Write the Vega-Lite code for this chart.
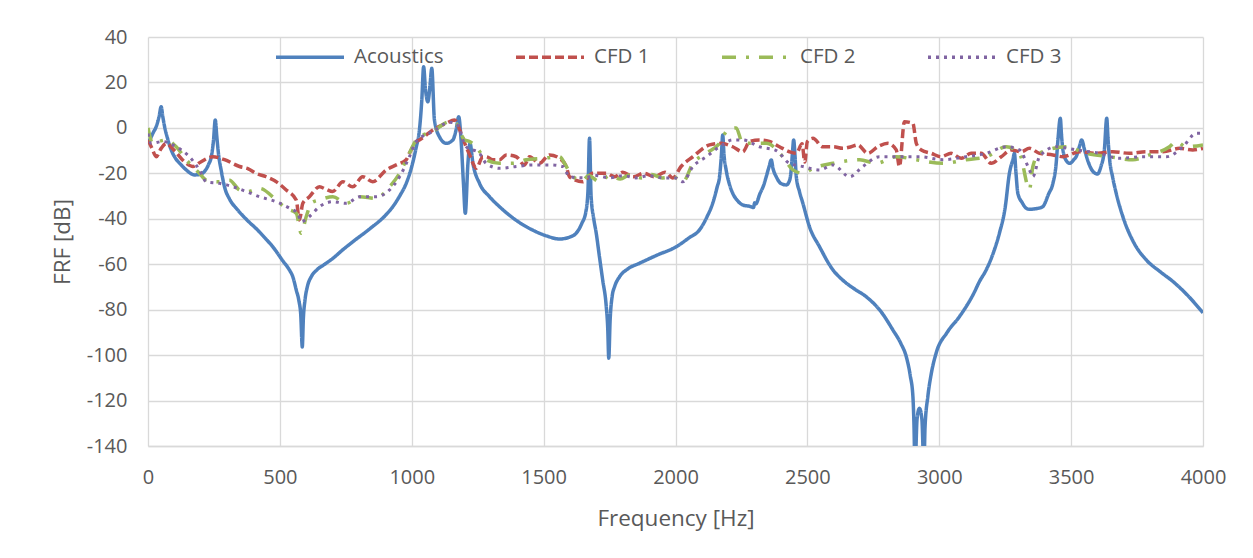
{
  "$schema": "https://vega.github.io/schema/vega-lite/v6.json",
  "width": 1055,
  "height": 409,
  "autosize": "none",
  "padding": {"left": 148, "top": 37, "right": 50, "bottom": 112},
  "background": "white",
  "config": {
    "view": {"stroke": null},
    "font": "Open Sans",
    "axis": {"labelFont": "Open Sans", "titleFont": "Open Sans", "labelColor": "#595959", "titleColor": "#595959", "labelFontSize": 20, "titleFontSize": 22.5, "titleFontWeight": "normal", "gridColor": "#D9D9D9", "gridWidth": 1.3, "ticks": false, "labelFlush": false}
  },
  "datasets": {
    "acoustics": [{"f":0,"v":-6},{"f":6,"v":-5.3},{"f":20,"v":-2},{"f":31,"v":0.5},{"f":42,"v":5},{"f":50,"v":9.3},{"f":56,"v":5},{"f":63,"v":0.5},{"f":75,"v":-5},{"f":88,"v":-9.7},{"f":105,"v":-13.5},{"f":126,"v":-16.3},{"f":150,"v":-19},{"f":176,"v":-20.7},{"f":195,"v":-20.5},{"f":214,"v":-19.2},{"f":230,"v":-16},{"f":240,"v":-12.7},{"f":248,"v":-6},{"f":255,"v":3.5},{"f":261,"v":-4},{"f":267,"v":-11.2},{"f":278,"v":-19},{"f":290,"v":-25.9},{"f":310,"v":-31.5},{"f":340,"v":-36.1},{"f":375,"v":-40.5},{"f":416,"v":-45},{"f":448,"v":-49},{"f":473,"v":-52.3},{"f":511,"v":-58.5},{"f":536,"v":-62.5},{"f":549,"v":-65.5},{"f":562,"v":-71.3},{"f":572,"v":-76},{"f":579,"v":-82},{"f":585,"v":-96.4},{"f":589,"v":-84},{"f":595,"v":-76},{"f":605,"v":-69.5},{"f":619,"v":-65.5},{"f":640,"v":-62.5},{"f":670,"v":-60},{"f":700,"v":-57.5},{"f":740,"v":-53.5},{"f":780,"v":-49.8},{"f":840,"v":-44.5},{"f":900,"v":-38.5},{"f":928,"v":-34.7},{"f":954,"v":-30},{"f":979,"v":-24.4},{"f":1000,"v":-17},{"f":1017,"v":-8.5},{"f":1029,"v":-1},{"f":1038,"v":12},{"f":1045,"v":26.9},{"f":1052,"v":17},{"f":1061,"v":11.5},{"f":1068,"v":17},{"f":1076,"v":26.2},{"f":1086,"v":3.5},{"f":1105,"v":-3.9},{"f":1131,"v":-6.8},{"f":1156,"v":-5.3},{"f":1168,"v":-0.9},{"f":1178,"v":4.9},{"f":1187,"v":-5.3},{"f":1196,"v":-24.4},{"f":1203,"v":-37.6},{"f":1213,"v":-15.6},{"f":1221,"v":-6.8},{"f":1232,"v":-15.6},{"f":1257,"v":-24.4},{"f":1295,"v":-30.3},{"f":1333,"v":-34.7},{"f":1400,"v":-41},{"f":1459,"v":-45},{"f":1510,"v":-47.5},{"f":1560,"v":-48.9},{"f":1600,"v":-48},{"f":1623,"v":-46.4},{"f":1645,"v":-42},{"f":1660,"v":-37},{"f":1668,"v":-28},{"f":1674,"v":-4.6},{"f":1680,"v":-30},{"f":1690,"v":-40},{"f":1699,"v":-46},{"f":1712,"v":-57},{"f":1724,"v":-67},{"f":1737,"v":-78},{"f":1743,"v":-88},{"f":1747,"v":-101.4},{"f":1752,"v":-85},{"f":1760,"v":-74},{"f":1769,"v":-69.9},{"f":1788,"v":-65.5},{"f":1820,"v":-62},{"f":1863,"v":-59.6},{"f":1930,"v":-56},{"f":2003,"v":-52.3},{"f":2050,"v":-48.5},{"f":2091,"v":-44.9},{"f":2120,"v":-39},{"f":2141,"v":-33.2},{"f":2158,"v":-26},{"f":2167,"v":-21.5},{"f":2174,"v":-12},{"f":2179,"v":-3.1},{"f":2184,"v":-12},{"f":2192,"v":-18.5},{"f":2205,"v":-25},{"f":2217,"v":-28.8},{"f":2235,"v":-32},{"f":2255,"v":-33.9},{"f":2280,"v":-34.5},{"f":2296,"v":-35},{"f":2300,"v":-33},{"f":2304,"v":-33.5},{"f":2320,"v":-29},{"f":2335,"v":-25},{"f":2344,"v":-21.5},{"f":2355,"v":-17},{"f":2363,"v":-14.1},{"f":2370,"v":-18},{"f":2382,"v":-21.5},{"f":2400,"v":-24.5},{"f":2420,"v":-25.1},{"f":2433,"v":-23},{"f":2439,"v":-18},{"f":2444,"v":-10},{"f":2448,"v":-5.3},{"f":2453,"v":-12},{"f":2458,"v":-21.5},{"f":2470,"v":-28},{"f":2483,"v":-33.2},{"f":2508,"v":-43.5},{"f":2546,"v":-52.3},{"f":2597,"v":-62.5},{"f":2634,"v":-67},{"f":2680,"v":-71},{"f":2723,"v":-74.3},{"f":2780,"v":-81},{"f":2824,"v":-88.9},{"f":2855,"v":-95},{"f":2875,"v":-100.7},{"f":2890,"v":-109},{"f":2900,"v":-118},{"f":2904,"v":-130},{"f":2908,"v":-150},{"f":2916,"v":-128},{"f":2925,"v":-123.4},{"f":2934,"v":-128},{"f":2942,"v":-150},{"f":2946,"v":-132},{"f":2957,"v":-118},{"f":2970,"v":-108},{"f":2988,"v":-99.2},{"f":3030,"v":-90},{"f":3077,"v":-83},{"f":3130,"v":-73},{"f":3153,"v":-67.5},{"f":3178,"v":-62.5},{"f":3205,"v":-55},{"f":3228,"v":-46.4},{"f":3250,"v":-35},{"f":3266,"v":-20},{"f":3280,"v":-13.5},{"f":3285,"v":-11.2},{"f":3291,"v":-20},{"f":3298,"v":-28.8},{"f":3315,"v":-33},{"f":3330,"v":-35.4},{"f":3342,"v":-35.8},{"f":3370,"v":-35.5},{"f":3392,"v":-34.7},{"f":3415,"v":-29},{"f":3431,"v":-24.4},{"f":3443,"v":-16},{"f":3450,"v":-5.3},{"f":3459,"v":4.2},{"f":3464,"v":-4},{"f":3469,"v":-9.7},{"f":3482,"v":-14.5},{"f":3495,"v":-15.6},{"f":3510,"v":-14},{"f":3519,"v":-12.7},{"f":3532,"v":-8},{"f":3540,"v":-5.3},{"f":3551,"v":-9.7},{"f":3565,"v":-15},{"f":3583,"v":-19.2},{"f":3600,"v":-20.3},{"f":3613,"v":-17},{"f":3626,"v":-9.7},{"f":3635,"v":4.2},{"f":3640,"v":-5},{"f":3645,"v":-12.7},{"f":3658,"v":-22},{"f":3671,"v":-28.8},{"f":3696,"v":-39},{"f":3740,"v":-51},{"f":3785,"v":-58.1},{"f":3840,"v":-63.5},{"f":3885,"v":-67.5},{"f":3940,"v":-73.5},{"f":4000,"v":-81.4}],
    "cfd1": [{"f":0,"v":-5.3},{"f":15,"v":-9},{"f":31,"v":-12.7},{"f":50,"v":-9},{"f":69,"v":-6.8},{"f":100,"v":-10},{"f":145,"v":-15.6},{"f":170,"v":-17},{"f":200,"v":-15},{"f":246,"v":-12.7},{"f":290,"v":-14},{"f":347,"v":-17},{"f":380,"v":-18},{"f":410,"v":-20},{"f":448,"v":-21.5},{"f":490,"v":-24},{"f":524,"v":-27.3},{"f":562,"v":-31.7},{"f":574,"v":-40.5},{"f":587,"v":-33.2},{"f":612,"v":-30.3},{"f":650,"v":-25.9},{"f":675,"v":-27},{"f":700,"v":-28},{"f":739,"v":-23.7},{"f":776,"v":-25.9},{"f":814,"v":-21.5},{"f":852,"v":-23.7},{"f":903,"v":-18.5},{"f":941,"v":-16.3},{"f":979,"v":-14},{"f":991,"v":-11.2},{"f":1017,"v":-6},{"f":1029,"v":-5.3},{"f":1080,"v":-0.9},{"f":1131,"v":2},{"f":1162,"v":3.5},{"f":1187,"v":-2.4},{"f":1206,"v":-8.3},{"f":1220,"v":-12},{"f":1232,"v":-15.6},{"f":1244,"v":-17.8},{"f":1270,"v":-12.7},{"f":1282,"v":-12.7},{"f":1307,"v":-14},{"f":1333,"v":-14},{"f":1358,"v":-11.9},{"f":1396,"v":-12.7},{"f":1427,"v":-16.3},{"f":1447,"v":-12.7},{"f":1484,"v":-15.6},{"f":1522,"v":-11.9},{"f":1560,"v":-13.4},{"f":1586,"v":-17},{"f":1598,"v":-21.5},{"f":1649,"v":-23.7},{"f":1686,"v":-20},{"f":1737,"v":-20},{"f":1770,"v":-21.5},{"f":1800,"v":-19.5},{"f":1840,"v":-21.5},{"f":1880,"v":-20},{"f":1920,"v":-21.5},{"f":1960,"v":-19.5},{"f":1990,"v":-22},{"f":2021,"v":-17},{"f":2066,"v":-12.7},{"f":2129,"v":-7.5},{"f":2173,"v":-6.8},{"f":2217,"v":-8.3},{"f":2255,"v":-10.5},{"f":2281,"v":-6},{"f":2318,"v":-5.3},{"f":2356,"v":-6},{"f":2394,"v":-8.3},{"f":2432,"v":-10.5},{"f":2458,"v":-11.2},{"f":2480,"v":-7},{"f":2490,"v":-15},{"f":2500,"v":-6},{"f":2521,"v":-4.6},{"f":2559,"v":-8.3},{"f":2597,"v":-8.3},{"f":2634,"v":-9},{"f":2666,"v":-8.3},{"f":2691,"v":-7.5},{"f":2729,"v":-11.2},{"f":2767,"v":-8.3},{"f":2805,"v":-6.8},{"f":2837,"v":-9.7},{"f":2849,"v":-17},{"f":2868,"v":2.7},{"f":2900,"v":2},{"f":2913,"v":-6.8},{"f":2932,"v":-9.7},{"f":2970,"v":-11.2},{"f":3007,"v":-12.7},{"f":3045,"v":-11.2},{"f":3083,"v":-13.4},{"f":3121,"v":-11.2},{"f":3159,"v":-11.2},{"f":3197,"v":-15.6},{"f":3235,"v":-12.7},{"f":3273,"v":-9.7},{"f":3311,"v":-10.5},{"f":3342,"v":-9},{"f":3380,"v":-11.2},{"f":3431,"v":-11.9},{"f":3469,"v":-12.7},{"f":3532,"v":-10.5},{"f":3595,"v":-11.2},{"f":3658,"v":-10.5},{"f":3721,"v":-11.2},{"f":3785,"v":-10.5},{"f":3848,"v":-10.5},{"f":3911,"v":-9},{"f":3961,"v":-9.7},{"f":4000,"v":-9}],
    "cfd2": [{"f":0,"v":0},{"f":18,"v":-6.8},{"f":40,"v":-6},{"f":69,"v":-5.3},{"f":107,"v":-8.3},{"f":145,"v":-14},{"f":195,"v":-20},{"f":221,"v":-23},{"f":271,"v":-23.7},{"f":309,"v":-23},{"f":347,"v":-27.3},{"f":380,"v":-28},{"f":423,"v":-26.6},{"f":486,"v":-31.7},{"f":524,"v":-35.4},{"f":562,"v":-37.6},{"f":581,"v":-46.4},{"f":600,"v":-39},{"f":620,"v":-33},{"f":650,"v":-31.7},{"f":701,"v":-30.3},{"f":752,"v":-33.2},{"f":802,"v":-30.3},{"f":865,"v":-31},{"f":916,"v":-25.9},{"f":954,"v":-20},{"f":991,"v":-11.2},{"f":1017,"v":-5.3},{"f":1029,"v":-4},{"f":1080,"v":-1.6},{"f":1143,"v":2.7},{"f":1168,"v":2},{"f":1200,"v":-5.3},{"f":1219,"v":-6},{"f":1244,"v":-8.3},{"f":1282,"v":-14},{"f":1333,"v":-15.6},{"f":1383,"v":-15.6},{"f":1434,"v":-14},{"f":1497,"v":-13.4},{"f":1560,"v":-12.7},{"f":1586,"v":-17},{"f":1611,"v":-21.5},{"f":1649,"v":-23},{"f":1670,"v":-21},{"f":1712,"v":-23.7},{"f":1750,"v":-21},{"f":1790,"v":-22.5},{"f":1830,"v":-20.5},{"f":1870,"v":-22},{"f":1910,"v":-20.5},{"f":1950,"v":-22},{"f":1990,"v":-21.5},{"f":2028,"v":-23.7},{"f":2066,"v":-15.6},{"f":2117,"v":-11.2},{"f":2167,"v":-6.8},{"f":2198,"v":-0.9},{"f":2230,"v":0},{"f":2255,"v":-6.8},{"f":2293,"v":-6.8},{"f":2344,"v":-6.8},{"f":2407,"v":-12.7},{"f":2445,"v":-18.5},{"f":2483,"v":-20},{"f":2521,"v":-17.8},{"f":2597,"v":-15.6},{"f":2698,"v":-14},{"f":2761,"v":-15.6},{"f":2837,"v":-12.7},{"f":2913,"v":-14},{"f":3013,"v":-15.6},{"f":3102,"v":-14},{"f":3178,"v":-12.7},{"f":3254,"v":-8.3},{"f":3304,"v":-11.2},{"f":3342,"v":-27},{"f":3355,"v":-17},{"f":3380,"v":-11.2},{"f":3481,"v":-8.3},{"f":3557,"v":-11.2},{"f":3645,"v":-12.7},{"f":3734,"v":-14},{"f":3797,"v":-11.9},{"f":3873,"v":-8.3},{"f":3898,"v":-6},{"f":3936,"v":-8.3},{"f":4000,"v":-7.5}],
    "cfd3": [{"f":0,"v":-2.5},{"f":11,"v":-6.8},{"f":56,"v":-6},{"f":107,"v":-8.3},{"f":157,"v":-12.7},{"f":195,"v":-18.5},{"f":221,"v":-23.7},{"f":271,"v":-24.4},{"f":322,"v":-25.9},{"f":372,"v":-28},{"f":423,"v":-30.3},{"f":486,"v":-32.5},{"f":537,"v":-35.4},{"f":568,"v":-37.6},{"f":581,"v":-41.3},{"f":612,"v":-39},{"f":650,"v":-34.7},{"f":701,"v":-32.5},{"f":752,"v":-33.2},{"f":802,"v":-30.3},{"f":865,"v":-30.3},{"f":916,"v":-27.3},{"f":954,"v":-21.5},{"f":991,"v":-12.7},{"f":1017,"v":-6},{"f":1080,"v":-1.6},{"f":1143,"v":2.5},{"f":1168,"v":2},{"f":1206,"v":-8.3},{"f":1257,"v":-11.2},{"f":1282,"v":-15.6},{"f":1333,"v":-17.8},{"f":1396,"v":-17},{"f":1459,"v":-16.3},{"f":1522,"v":-16.3},{"f":1573,"v":-17},{"f":1598,"v":-21.5},{"f":1650,"v":-22},{"f":1700,"v":-21},{"f":1750,"v":-22},{"f":1800,"v":-21},{"f":1850,"v":-22},{"f":1900,"v":-21},{"f":1950,"v":-22},{"f":2000,"v":-22},{"f":2028,"v":-23.7},{"f":2066,"v":-17},{"f":2117,"v":-12.7},{"f":2167,"v":-8.3},{"f":2217,"v":-5.3},{"f":2255,"v":-5.3},{"f":2318,"v":-8.3},{"f":2382,"v":-10},{"f":2432,"v":-15.6},{"f":2483,"v":-17},{"f":2546,"v":-18.5},{"f":2597,"v":-16.3},{"f":2660,"v":-21.5},{"f":2710,"v":-17},{"f":2773,"v":-12.7},{"f":2849,"v":-12.7},{"f":2925,"v":-12.7},{"f":3013,"v":-14},{"f":3102,"v":-12.7},{"f":3178,"v":-11.2},{"f":3254,"v":-8.3},{"f":3304,"v":-9.7},{"f":3342,"v":-18.5},{"f":3355,"v":-21.5},{"f":3380,"v":-12.7},{"f":3443,"v":-8.3},{"f":3519,"v":-9.7},{"f":3607,"v":-11.2},{"f":3683,"v":-13.4},{"f":3772,"v":-12.7},{"f":3861,"v":-12.7},{"f":3924,"v":-8.3},{"f":3974,"v":-2.4},{"f":4000,"v":-2.4}]
  },
  "layer": [
    {
      "data": {"name": "acoustics"},
      "transform": [{"calculate": "'Acoustics'", "as": "s"}],
      "mark": {"type": "line", "strokeWidth": 3.5, "clip": true, "interpolate": "monotone"}
    },
    {
      "data": {"name": "cfd1"},
      "transform": [{"calculate": "'CFD 1'", "as": "s"}],
      "mark": {"type": "line", "strokeWidth": 3.5, "clip": true, "interpolate": "monotone"}
    },
    {
      "data": {"name": "cfd2"},
      "transform": [{"calculate": "'CFD 2'", "as": "s"}],
      "mark": {"type": "line", "strokeWidth": 3.5, "clip": true, "interpolate": "monotone"}
    },
    {
      "data": {"name": "cfd3"},
      "transform": [{"calculate": "'CFD 3'", "as": "s"}],
      "mark": {"type": "line", "strokeWidth": 3, "clip": true, "interpolate": "monotone"}
    }
  ],
  "encoding": {
    "x": {"field": "f", "type": "quantitative", "title": "Frequency [Hz]", "scale": {"domain": [0, 4000], "nice": false}, "axis": {"values": [0, 500, 1000, 1500, 2000, 2500, 3000, 3500, 4000], "labelExpr": "toString(datum.value)", "labelPadding": 21, "titlePadding": 20, "domainColor": "#D9D9D9", "domainWidth": 1.5}},
    "y": {"field": "v", "type": "quantitative", "title": "FRF [dB]", "scale": {"domain": [-140, 40], "nice": false}, "axis": {"values": [-140, -120, -100, -80, -60, -40, -20, 0, 20, 40], "labelExpr": "toString(datum.value)", "labelPadding": 21, "titlePadding": 12, "domain": false}},
    "color": {"field": "s", "type": "nominal", "scale": {"domain": ["Acoustics", "CFD 1", "CFD 2", "CFD 3"], "range": ["#4F81BD", "#C0504D", "#9BBB59", "#8064A2"]}, "legend": {"orient": "none", "legendX": 126, "legendY": -16, "direction": "horizontal", "columns": 4, "symbolType": "stroke", "symbolSize": 4624, "symbolStrokeWidth": 3.5, "labelFont": "Open Sans", "labelFontSize": 20.5, "labelColor": "#595959", "columnPadding": 65, "labelOffset": 8, "title": null, "padding": 0}},
    "strokeDash": {"field": "s", "type": "nominal", "scale": {"domain": ["Acoustics", "CFD 1", "CFD 2", "CFD 3"], "range": [[1, 0], [9, 4], [14, 10, 3, 10], [3, 5]]}, "legend": {"orient": "none", "legendX": 126, "legendY": -16, "direction": "horizontal", "columns": 4, "symbolType": "stroke", "symbolSize": 4624, "symbolStrokeWidth": 3.5, "labelFont": "Open Sans", "labelFontSize": 20.5, "labelColor": "#595959", "columnPadding": 65, "labelOffset": 8, "title": null, "padding": 0}}
  }
}
